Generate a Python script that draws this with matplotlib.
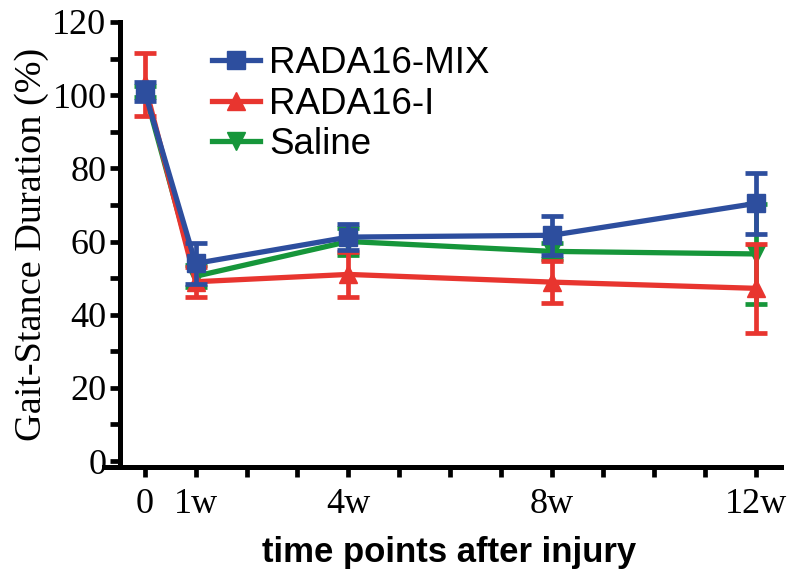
import matplotlib
matplotlib.use("Agg")
import matplotlib.pyplot as plt
from matplotlib.ticker import MultipleLocator, FixedLocator

weeks = [0, 1, 4, 8, 12]
tick_labels = ["0", "1w", "4w", "8w", "12w"]

mix_mean = [101, 54, 61.2, 61.7, 70.4]
mix_err = [2.5, 5.5, 3.5, 5.4, 8.3]
rada_mean = [103, 49, 51, 48.9, 47.2]
rada_err = [8.6, 4.1, 6.1, 5.8, 12.1]
saline_mean = [101, 50.5, 60, 57.3, 56.6]
saline_err = [1.6, 3.0, 3.7, 2.2, 13.7]

BLUE = "#2D4E9E"
RED = "#E8352F"
GREEN = "#16963A"

fig = plt.figure(figsize=(8, 5.71), dpi=100)
ax = fig.add_axes([104/800, (571-467)/571, (781-104)/800, (467-22)/571])

common = dict(linewidth=3.8, elinewidth=3.4, capsize=8, capthick=3.4, markersize=13)
ax.errorbar(weeks, saline_mean, yerr=saline_err, color=GREEN, marker="v", label="Saline", zorder=2, **common)
ax.errorbar(weeks, rada_mean, yerr=rada_err, color=RED, marker="^", label="RADA16-I", zorder=3, **common)
ax.errorbar(weeks, mix_mean, yerr=mix_err, color=BLUE, marker="s", label="RADA16-MIX", zorder=4, **common)

ax.set_xlim(-0.8, 12.5)
ax.set_ylim(-1.64, 120)
ax.spines["top"].set_visible(False)
ax.spines["right"].set_visible(False)
ax.spines["left"].set_position(("data", -0.48))
ax.spines["left"].set_bounds(-1.64, 120)
for s in ["left", "bottom"]:
    ax.spines[s].set_linewidth(3.6)

ax.yaxis.set_major_locator(MultipleLocator(20))
ax.yaxis.set_minor_locator(MultipleLocator(10))
ax.xaxis.set_major_locator(FixedLocator(weeks))
ax.xaxis.set_minor_locator(MultipleLocator(1))
ax.set_xticklabels(tick_labels)
ax.tick_params(which="both", direction="out", length=7, width=3.4)
ax.tick_params(axis="both", which="major", labelsize=26, pad=3)
for lab in ax.get_xticklabels() + ax.get_yticklabels():
    lab.set_fontfamily("Liberation Serif")
ax.tick_params(axis="x", pad=8)

ax.set_ylabel("Gait-Stance Duration (%)", fontsize=27.5, fontfamily="Liberation Serif", labelpad=2)
ax.set_xlabel("time points after injury", fontsize=25, fontweight="bold", fontfamily="Liberation Sans")
ax.xaxis.set_label_coords(0.51, -0.155)

h, l = ax.get_legend_handles_labels()
order = [2, 1, 0]
leg = ax.legend([h[i][0] for i in order], [l[i] for i in order], loc="upper left",
                bbox_to_anchor=((190-104)/677, 0.995), frameon=False,
                prop={"family": "Liberation Sans", "size": 26.5},
                handlelength=1.3, handletextpad=0.25, labelspacing=0.15, borderaxespad=0.2)

fig.savefig("out.png", dpi=100)
